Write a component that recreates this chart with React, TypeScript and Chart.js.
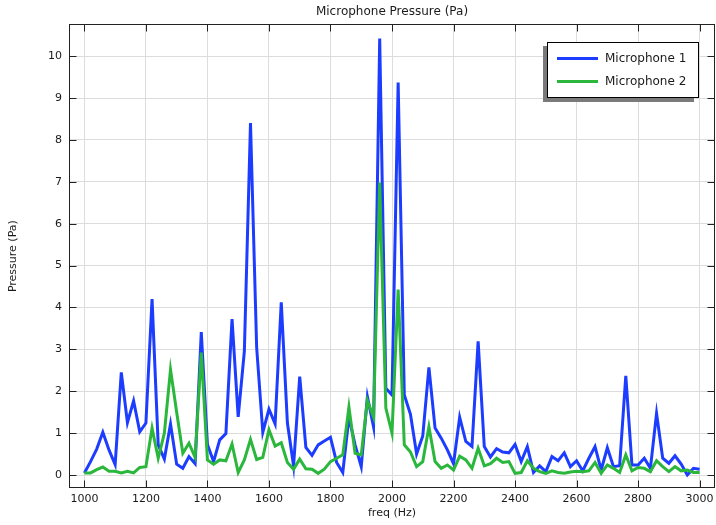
import React, { useEffect, useRef } from "react";
import { Chart, registerables } from "chart.js";

Chart.register(...registerables);

const freqHz = [
  1000, 1020, 1040, 1060, 1080, 1100, 1120, 1140, 1160, 1180,
  1200, 1220, 1240, 1260, 1280, 1300, 1320, 1340, 1360, 1380,
  1400, 1420, 1440, 1460, 1480, 1500, 1520, 1540, 1560, 1580,
  1600, 1620, 1640, 1660, 1680, 1700, 1720, 1740, 1760, 1780,
  1800, 1820, 1840, 1860, 1880, 1900, 1920, 1940, 1960, 1980,
  2000, 2020, 2040, 2060, 2080, 2100, 2120, 2140, 2160, 2180,
  2200, 2220, 2240, 2260, 2280, 2300, 2320, 2340, 2360, 2380,
  2400, 2420, 2440, 2460, 2480, 2500, 2520, 2540, 2560, 2580,
  2600, 2620, 2640, 2660, 2680, 2700, 2720, 2740, 2760, 2780,
  2800, 2820, 2840, 2860, 2880, 2900, 2920, 2940, 2960, 2980,
  3000,
];

const microphone1 = [
  0.05, 0.32, 0.62, 1.02, 0.6, 0.25, 2.45, 1.25, 1.77, 1.03,
  1.24, 4.2, 0.72, 0.38, 1.22, 0.26, 0.16, 0.44, 0.27, 3.41,
  0.73, 0.32, 0.84, 0.99, 3.72, 1.39, 2.95, 8.4, 3.05, 1.02,
  1.57, 1.22, 4.12, 1.24, 0.22, 2.35, 0.66, 0.47, 0.72, 0.81,
  0.9, 0.3, 0.06, 1.38, 0.72, 0.2, 1.87, 1.15, 10.42, 2.07,
  1.91, 9.37, 1.91, 1.45, 0.5, 0.93, 2.57, 1.12, 0.88, 0.6,
  0.27, 1.38, 0.8, 0.68, 3.19, 0.68, 0.43, 0.63, 0.55, 0.53,
  0.73, 0.32, 0.68, 0.06, 0.22, 0.08, 0.44, 0.34, 0.53, 0.2,
  0.34, 0.1, 0.4, 0.68, 0.12, 0.65, 0.2, 0.22, 2.37, 0.24,
  0.24, 0.4, 0.16, 1.47, 0.4, 0.28, 0.46, 0.26, 0.0, 0.16,
  0.14,
];

const microphone2 = [
  0.05, 0.05, 0.13, 0.19, 0.09, 0.09, 0.05, 0.09, 0.05, 0.18,
  0.2, 1.12, 0.4, 1.0, 2.52, 1.5, 0.52, 0.76, 0.42, 2.92,
  0.36, 0.26, 0.36, 0.34, 0.74, 0.06, 0.36, 0.85, 0.37, 0.42,
  1.08, 0.69, 0.77, 0.3, 0.14, 0.38, 0.15, 0.14, 0.04, 0.14,
  0.32, 0.4, 0.48, 1.62, 0.52, 0.48, 1.78, 1.38, 6.98, 1.6,
  1.0, 4.43, 0.72, 0.55, 0.2, 0.32, 1.15, 0.32, 0.16, 0.24,
  0.12, 0.45, 0.36, 0.16, 0.64, 0.22, 0.27, 0.4, 0.3, 0.32,
  0.04, 0.06, 0.34, 0.16, 0.08, 0.04, 0.1, 0.06, 0.04, 0.07,
  0.09, 0.08, 0.1, 0.3, 0.04, 0.24, 0.16, 0.06, 0.48, 0.1,
  0.18, 0.16, 0.08, 0.34, 0.2, 0.08, 0.2, 0.1, 0.12, 0.06,
  0.06,
];

const xTickValues = [1000, 1200, 1400, 1600, 1800, 2000, 2200, 2400, 2600, 2800, 3000];
const yTickValues = [0, 1, 2, 3, 4, 5, 6, 7, 8, 9, 10];

const seriesLabels = ["Microphone 1", "Microphone 2"];
const seriesColors = ["#1c3cff", "#2ab73c"];

const FONT = "'DejaVu Sans', sans-serif";
const TEXT = "#1a1a1a";

const framePlugin = {
  id: "frameTicks",
  afterDatasetsDraw(chart: any) {
    const { ctx, chartArea, scales } = chart;
    const L = Math.round(chartArea.left) + 0.5;
    const R = Math.round(chartArea.right) - 0.5;
    const T = Math.round(chartArea.top) + 0.5;
    const B = Math.round(chartArea.bottom) - 0.5;
    const tl = 7;
    ctx.save();
    ctx.strokeStyle = "#222";
    ctx.lineWidth = 1;
    ctx.beginPath();
    for (const v of xTickValues) {
      const px = Math.round(scales.x.getPixelForValue(v)) + 0.5;
      ctx.moveTo(px, B);
      ctx.lineTo(px, B - tl);
      ctx.moveTo(px, T);
      ctx.lineTo(px, T + tl);
    }
    for (const v of yTickValues) {
      const py = Math.round(scales.y.getPixelForValue(v)) + 0.5;
      ctx.moveTo(L, py);
      ctx.lineTo(L + tl, py);
      ctx.moveTo(R, py);
      ctx.lineTo(R - tl, py);
    }
    ctx.stroke();
    ctx.strokeRect(L, T, R - L, B - T);
    ctx.restore();
  },
};

const legendPlugin = {
  id: "boxLegend",
  afterDraw(chart: any) {
    const { ctx, chartArea } = chart;
    const w = 151;
    const h = 55;
    const x = Math.round(chartArea.right) - 17 - w;
    const y = Math.round(chartArea.top) + 18;
    ctx.save();
    ctx.fillStyle = "#7a7a7a";
    ctx.fillRect(x - 4, y + 4, w, h + 1);
    ctx.fillStyle = "#ffffff";
    ctx.fillRect(x, y, w, h);
    ctx.strokeStyle = "#000";
    ctx.lineWidth = 1;
    ctx.strokeRect(x + 0.5, y + 0.5, w, h);
    ctx.font = `12px ${FONT}`;
    ctx.textBaseline = "middle";
    ctx.textAlign = "left";
    chart.data.datasets.forEach((ds: any, i: number) => {
      const ly = y + 16.5 + i * 23;
      ctx.strokeStyle = ds.borderColor;
      ctx.lineWidth = 3;
      ctx.beginPath();
      ctx.moveTo(x + 10, ly);
      ctx.lineTo(x + 51, ly);
      ctx.stroke();
      ctx.fillStyle = TEXT;
      ctx.fillText(ds.label, x + 58, ly);
    });
    ctx.restore();
  },
};

export default function App() {
  const canvasRef = useRef<HTMLCanvasElement | null>(null);

  useEffect(() => {
    if (!canvasRef.current) return;
    const chart = new Chart(canvasRef.current, {
      type: "line",
      data: {
        labels: freqHz,
        datasets: [
          {
            label: seriesLabels[0],
            data: freqHz.map((f, i) => ({ x: f, y: microphone1[i] })),
            borderColor: seriesColors[0],
            backgroundColor: seriesColors[0],
            borderWidth: 3,
            pointRadius: 0,
            tension: 0,
            order: 1,
          },
          {
            label: seriesLabels[1],
            data: freqHz.map((f, i) => ({ x: f, y: microphone2[i] })),
            borderColor: seriesColors[1],
            backgroundColor: seriesColors[1],
            borderWidth: 3,
            pointRadius: 0,
            tension: 0,
            order: 0,
          },
        ],
      },
      options: {
        responsive: false,
        animation: false,
        devicePixelRatio: 1,
        layout: { padding: { left: 0, right: 1, top: 0, bottom: 0 } },
        plugins: {
          legend: { display: false },
          tooltip: { enabled: false },
          title: {
            display: true,
            text: "Microphone Pressure (Pa)",
            color: TEXT,
            fullSize: false,
            font: { family: FONT, size: 12, weight: "normal", lineHeight: 1.2 },
            padding: { top: 5, bottom: 4.9 },
          },
        },
        scales: {
          x: {
            type: "linear",
            min: 950,
            max: 3050,
            afterFit: (s: any) => {
              s.height = 37;
              s.paddingLeft = 0;
              s.paddingRight = 0;
            },
            afterBuildTicks: (s: any) => {
              s.ticks = xTickValues.map((v) => ({ value: v }));
            },
            ticks: {
              color: TEXT,
              font: { family: FONT, size: 11 },
              padding: 5,
              maxRotation: 0,
              autoSkip: false,
              callback: (v: any) => String(v),
            },
            grid: { color: "#dcdcdc", lineWidth: 1, drawTicks: false },
            border: { display: false },
            title: {
              display: true,
              text: "freq (Hz)",
              color: TEXT,
              font: { family: FONT, size: 11 },
              padding: { top: 0, bottom: 5 },
            },
          },
          y: {
            type: "linear",
            min: -0.31,
            max: 10.76,
            afterFit: (s: any) => {
              s.width = 69;
              s.paddingTop = 0;
              s.paddingBottom = 0;
            },
            afterBuildTicks: (s: any) => {
              s.ticks = yTickValues.map((v) => ({ value: v }));
            },
            ticks: {
              color: TEXT,
              font: { family: FONT, size: 11 },
              padding: 7,
              autoSkip: false,
              callback: (v: any) => String(v),
            },
            grid: { color: "#dcdcdc", lineWidth: 1, drawTicks: false },
            border: { display: false },
            title: {
              display: true,
              text: "Pressure (Pa)",
              color: TEXT,
              font: { family: FONT, size: 11 },
              padding: { top: 7, bottom: 0 },
            },
          },
        },
      },
      plugins: [framePlugin, legendPlugin],
    } as any);
    return () => chart.destroy();
  }, []);

  return (
    <div style={{ position: "fixed", left: 0, top: 0, width: 716, height: 525, background: "#fff" }}>
      <canvas ref={canvasRef} width={716} height={525} style={{ display: "block" }} />
    </div>
  );
}
